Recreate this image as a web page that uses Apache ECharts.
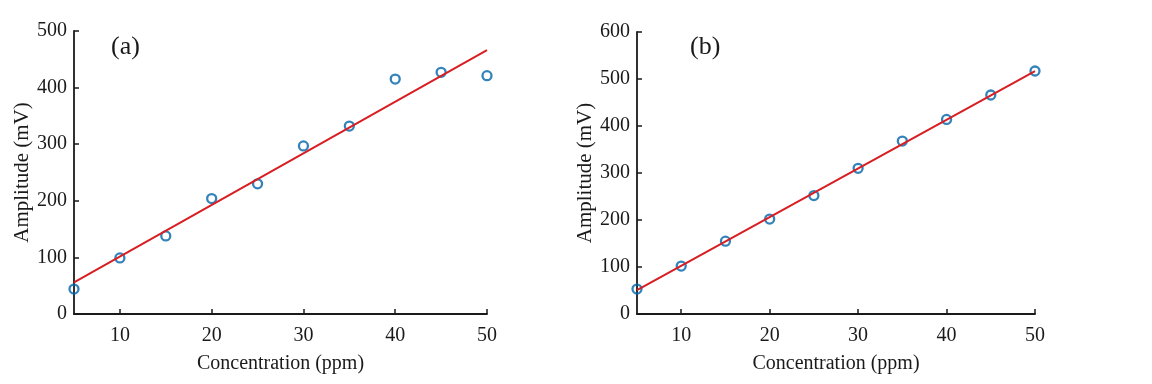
<!DOCTYPE html>
<html><head><meta charset="utf-8">
<script src="https://cdn.jsdelivr.net/npm/echarts@6/dist/echarts.min.js"></script>
<style>html,body{margin:0;padding:0;background:#fff}#c{width:1152px;height:384px}</style>
</head><body><div id="c"></div>
<script>
const concentration = [5, 10, 15, 20, 25, 30, 35, 40, 45, 50];
const amplitudeA = [44, 99, 138, 204, 230, 297, 332, 415, 427, 421];
const amplitudeB = [53, 102, 155, 202, 252, 310, 368, 414, 466, 517];
const fitA = [[5, 56], [50, 466]];
const fitB = [[5, 51], [50, 517]];
const xTicks = [10, 20, 30, 40, 50];
const panelLabels = ['(a)', '(b)'];

const font = 'Liberation Serif';
const ink = '#1a1a1a';
const chart = echarts.init(document.getElementById('c'));

function xAxis(i) {
  return {
    type: 'value', gridIndex: i, min: 5, max: 50,
    name: 'Concentration (ppm)', nameLocation: 'middle', nameGap: 40,
    nameTextStyle: {fontFamily: font, fontSize: 20, color: ink},
    axisLine: {lineStyle: {color: ink, width: 1.8}},
    axisTick: {length: -5, lineStyle: {color: ink, width: 1.5}, customValues: xTicks},
    axisLabel: {fontFamily: font, fontSize: 20, color: ink, margin: 12, customValues: xTicks},
    splitLine: {show: false}
  };
}
function yAxis(i, max) {
  return {
    type: 'value', gridIndex: i, min: 0, max: max, interval: 100,
    name: 'Amplitude (mV)', nameLocation: 'middle', nameGap: 37,
    nameTextStyle: {fontFamily: font, fontSize: 21, color: ink},
    axisLine: {show: true, lineStyle: {color: ink, width: 1.8}},
    axisTick: {show: true, length: -5, lineStyle: {color: ink, width: 1.5}},
    axisLabel: {fontFamily: font, fontSize: 20, color: ink, margin: 7},
    splitLine: {show: false}
  };
}
function scatter(i, ys) {
  return {
    type: 'scatter', xAxisIndex: i, yAxisIndex: i,
    data: concentration.map((x, k) => [x, ys[k]]),
    symbol: 'circle', symbolSize: 9,
    itemStyle: {color: 'rgba(255,255,255,0)', borderColor: '#0064aa', borderWidth: 2.3},
    z: 2
  };
}
function fit(i, pts) {
  return {
    type: 'line', xAxisIndex: i, yAxisIndex: i, data: pts,
    showSymbol: false, symbol: 'none',
    lineStyle: {color: '#d81e22', width: 2}, z: 3
  };
}

chart.setOption({
  animation: false,
  grid: [
    {left: 74, top: 31, width: 413, height: 283},
    {left: 637, top: 32, width: 398, height: 282}
  ],
  xAxis: [xAxis(0), xAxis(1)],
  yAxis: [yAxis(0, 500), yAxis(1, 600)],
  graphic: [
    {type: 'text', left: 111, top: 34, style: {text: panelLabels[0], fontFamily: font, fontSize: 26, fill: ink}},
    {type: 'text', left: 690, top: 34, style: {text: panelLabels[1], fontFamily: font, fontSize: 26, fill: ink}}
  ],
  series: [scatter(0, amplitudeA), fit(0, fitA), scatter(1, amplitudeB), fit(1, fitB)]
});
</script></body></html>
